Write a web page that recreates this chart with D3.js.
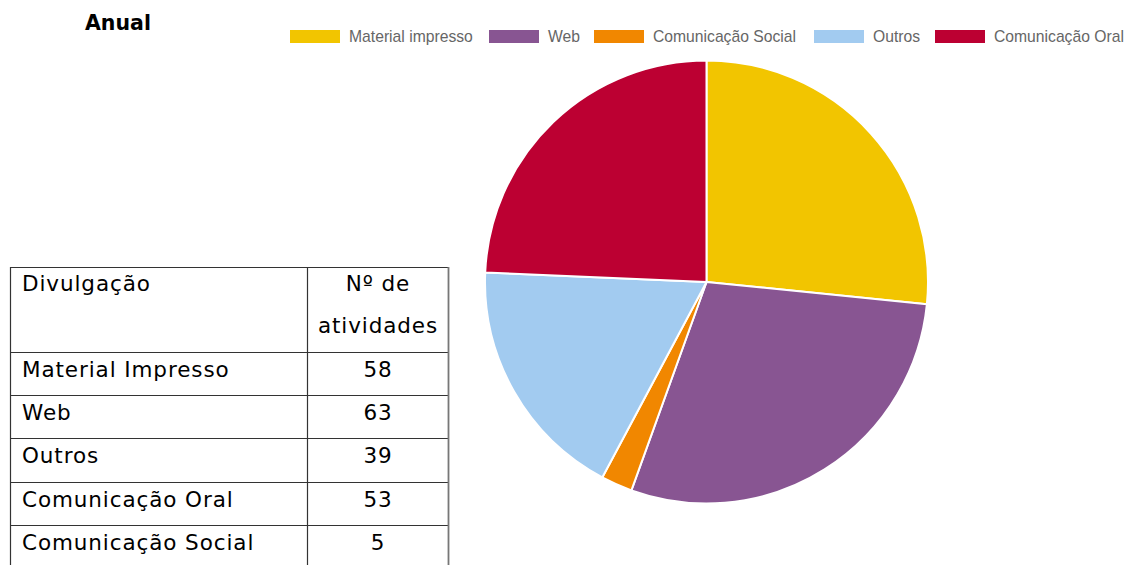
<!DOCTYPE html>
<html><head><meta charset="utf-8">
<script src="https://cdn.jsdelivr.net/npm/d3@7"></script>
<style>body{margin:0;background:#fff;}svg{display:block;}</style>
</head><body>
<svg id="c" width="1129" height="565"></svg>
<script>
// Pie data (clockwise from top)
const categories = ["Material impresso","Web","Comunicação Social","Outros","Comunicação Oral"];
const values = [58, 63, 5, 39, 53];
const colors = ["#F2C500","#885592","#F18700","#A2CBF0","#BC0032"];
// Table data
const tableHeader = ["Divulgação", "Nº de", "atividades"];
const tableLabels = ["Material Impresso","Web","Outros","Comunicação Oral","Comunicação Social"];
const tableValues = [58, 63, 39, 53, 5];
const title = "Anual";

const svg = d3.select("#c");

// Title
svg.append("text").attr("x",85).attr("y",30)
  .attr("font-family","DejaVu Sans").attr("font-weight","bold").attr("font-size",20.5)
  .attr("fill","#000").text(title);

// Legend
const legendX = [290, 489, 594, 814, 935];
const lg = svg.append("g");
categories.forEach((c,i)=>{
  lg.append("rect").attr("x",legendX[i]).attr("y",30).attr("width",50).attr("height",13).attr("fill",colors[i]);
  lg.append("text").attr("x",legendX[i]+59).attr("y",41.5)
    .attr("font-family","Liberation Sans").attr("font-size",15.7).attr("fill","#666").text(c);
});

// Pie
const cx = 706.5, cy = 282, r = 221.5;
const pie = d3.pie().sort(null).value(d=>d)(values);
const arc = d3.arc().innerRadius(0).outerRadius(r);
svg.append("g").attr("transform",`translate(${cx},${cy})`)
  .selectAll("path").data(pie).join("path")
  .attr("d",arc).attr("fill",(d,i)=>colors[i])
  .attr("stroke","#fff").attr("stroke-width",2).attr("stroke-linejoin","round");

// Table
const tx0 = 10, tx1 = 307, tx2 = 448;
const rowY = [267, 352, 395, 438, 482, 525, 568];
const y = d3.scaleOrdinal().domain(d3.range(rowY.length)).range(rowY);
const tg = svg.append("g");
const font = "DejaVu Sans, Verdana";
const fs = 21.5, ls = 0.9;
rowY.slice(0,6).forEach(yy=>{
  tg.append("line").attr("x1",tx0).attr("x2",tx2).attr("y1",yy+0.5).attr("y2",yy+0.5)
    .attr("stroke","#333").attr("stroke-width",1.2);
});
[tx0, tx1, tx2].forEach(xx=>{
  tg.append("line").attr("x1",xx+0.5).attr("x2",xx+0.5).attr("y1",267).attr("y2",565)
    .attr("stroke", xx===tx2 ? "#777" : "#333").attr("stroke-width", xx===tx2?1.8:1.2);
});
const midX = (tx1+tx2)/2 + 0.5;
function t(x, yy, s, anchor){
  tg.append("text").attr("x",x).attr("y",yy).attr("text-anchor",anchor||"start")
    .attr("font-family",font).attr("font-size",fs).attr("letter-spacing",ls).attr("fill","#000").text(s);
}
t(22, 291, tableHeader[0]);
t(midX, 291, tableHeader[1], "middle");
t(midX, 333, tableHeader[2], "middle");
tableLabels.forEach((l,i)=>{
  const yy = y(i+1) + 25;
  t(22, yy, l);
  t(midX, yy, tableValues[i], "middle");
});
</script>
</body></html>
